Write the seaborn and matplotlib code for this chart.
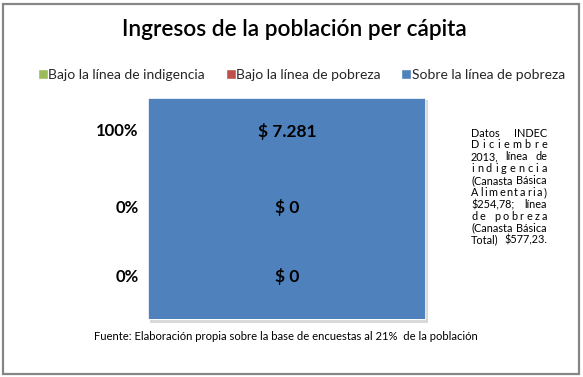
import matplotlib
matplotlib.use("Agg")
import matplotlib.pyplot as plt
import seaborn as sns
import pandas as pd
from matplotlib.lines import Line2D
from matplotlib.patches import Rectangle

# ---- data ----
series = ["Bajo la línea de indigencia", "Bajo la línea de pobreza", "Sobre la línea de pobreza"]
percent = [0, 0, 100]
amount = [0, 0, 7281]
pct_labels = ["0%", "0%", "100%"]
amount_labels = ["$ 0", "$ 0", "$ 7.281"]
colors = ["#9BBB59", "#C0504D", "#4F81BD"]
category = ["Ingresos"]
title = "Ingresos de la población per cápita"
source = "Fuente: Elaboración propia sobre la base de encuestas al 21%  de la población"
note_lines = [
    ["Datos", "INDEC"],
    list("Diciembre"),
    ["2013,", "línea", "de"],
    list("indigencia"),
    ["(Canasta", "Básica"],
    list("Alimentaria)"),
    ["$254,78;", "línea"],
    list("de") + [" "] + list("pobreza"),
    ["(Canasta", "Básica"],
    ["Total)", "$577,23."],
]

sns.set_theme(style="white")
plt.rcParams["font.family"] = ["Lato", "DejaVu Sans"]
plt.rcParams["text.parse_math"] = False

W, H = 583, 377
fig = plt.figure(figsize=(W / 100, H / 100), dpi=100)
fig.patch.set_facecolor("white")

# outer border
fig.add_artist(Rectangle((2.5 / W, 3.5 / H), 576 / W, 370 / H, transform=fig.transFigure,
                         fill=False, edgecolor="#868686", linewidth=1.6))

# bar shadow
fig.add_artist(Rectangle((150 / W, (H - 323) / H), 278 / W, 223 / H, transform=fig.transFigure,
                         facecolor="#d9d9d9", edgecolor="none", zorder=0))

ax = fig.add_axes([148 / W, (H - 320) / H, 278 / W, 222 / H])
df = pd.DataFrame({"serie": series, "pct": percent, "cat": category * len(series)})
df["top"] = df["pct"].cumsum()
for i in range(len(series) - 1, -1, -1):
    sns.barplot(data=df.iloc[[i]], x="cat", y="top", color=colors[i], width=1.0,
                edgecolor="white", linewidth=1.2, saturation=1, ax=ax)
ax.set_xlim(-0.5, 0.5)
ax.set_ylim(0, 100)
ax.set_axis_off()

# data labels (stacked top to bottom, as in the original)
label_y = [0.194, 0.505, 0.851]
for i in range(len(series)):
    ax.text(0.5, label_y[i], amount_labels[i], transform=ax.transAxes, ha="center", va="center",
            fontsize=12.5, fontweight="bold", color="black")
    ax.text(-0.034, label_y[i], pct_labels[i], transform=ax.transAxes, ha="right", va="center",
            fontsize=12, fontweight="bold", color="black")

# title
fig.text(0.505, 1 - 29 / H, title, ha="center", va="center", fontsize=16.3, fontweight="semibold",
         color="black")

# legend
handles = [Line2D([0], [0], marker="s", linestyle="none", markersize=6.5,
                  markerfacecolor=c, markeredgecolor="white") for c in colors]
fig.legend(handles, series, loc="center", bbox_to_anchor=(0.517, 1 - 75 / H), ncol=3,
           frameon=False, fontsize=10, handletextpad=0.05, columnspacing=1.5,
           handlelength=0.7, borderaxespad=0)

# source
fig.text(286 / W, 1 - 337 / H, source, ha="center", va="center", fontsize=8.1, color="black")

# justified note
renderer = fig.canvas.get_renderer()
x0, x1 = 471.0, 547.0
y0, dy = 133.0, 11.9
fs = 7.8
for li, toks in enumerate(note_lines):
    ypx = y0 + li * dy
    objs = []
    widths = []
    for t in toks:
        if t == " ":
            objs.append(None)
            widths.append(4.0)
            continue
        o = fig.text(0, 1 - ypx / H, t, ha="left", va="center", fontsize=fs, color="black")
        objs.append(o)
        widths.append(o.get_window_extent(renderer).width)
    gap = (x1 - x0 - sum(widths)) / max(len(toks) - 1, 1)
    x = x0
    for o, w in zip(objs, widths):
        if o is not None:
            o.set_x(x / W)
        x += w + gap

fig.savefig("out.png", dpi=100, facecolor="white")
